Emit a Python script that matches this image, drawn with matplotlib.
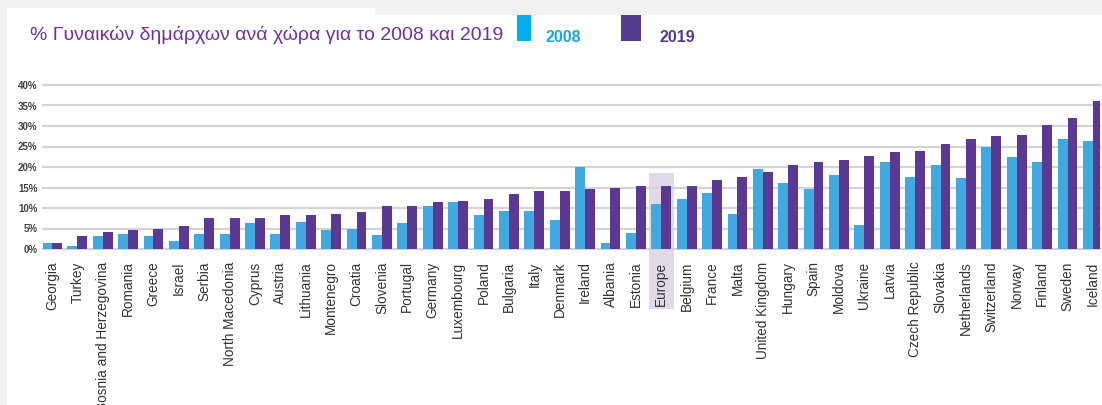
import numpy as np
import matplotlib
matplotlib.use("Agg")
import matplotlib.pyplot as plt
from matplotlib.patches import Rectangle

# data (% of women mayors)
countries = ["Georgia", "Turkey", "Bosnia and Herzegovina", "Romania", "Greece", "Israel",
             "Serbia", "North Macedonia", "Cyprus", "Austria", "Lithuania", "Montenegro",
             "Croatia", "Slovenia", "Portugal", "Germany", "Luxembourg", "Poland", "Bulgaria",
             "Italy", "Denmark", "Ireland", "Albania", "Estonia", "Europe", "Belgium", "France",
             "Malta", "United Kingdom", "Hungary", "Spain", "Moldova", "Ukraine", "Latvia",
             "Czech Republic", "Slovakia", "Netherlands", "Switzerland", "Norway", "Finland",
             "Sweden", "Iceland"]
vals_2008 = [1.5, 0.7, 3.1, 3.6, 3.1, 1.9, 3.6, 3.6, 6.3, 3.6, 6.7, 4.6,
             5.0, 3.5, 6.3, 10.6, 11.4, 8.2, 9.3, 9.3, 7.0, 20.0, 1.5, 3.9,
             11.0, 12.1, 13.7, 8.6, 19.6, 16.1, 14.6, 18.0, 5.9, 21.2,
             17.6, 20.4, 17.2, 24.8, 22.4, 21.2, 26.8, 26.3]
vals_2019 = [1.5, 3.1, 4.2, 4.6, 5.0, 5.5, 7.5, 7.5, 7.5, 8.2, 8.2, 8.6,
             9.0, 10.6, 10.6, 11.4, 11.8, 12.1, 13.3, 14.1, 14.1, 14.6, 15.0, 15.3,
             15.3, 15.3, 16.9, 17.6, 18.9, 20.4, 21.2, 21.6, 22.8, 23.6,
             24.0, 25.5, 26.8, 27.5, 27.9, 30.2, 31.9, 36.2]
yticks = [0, 5, 10, 15, 20, 25, 30, 35, 40]
title = "% Γυναικών δημάρχων ανά χώρα για το 2008 και 2019"
highlight = "Europe"

FONT = ["Liberation Sans Narrow", "Liberation Sans", "DejaVu Sans"]
plt.rcParams["font.family"] = FONT

c08 = "#3fa9e0"
c19 = "#5a3894"

W, H = 1102, 405
fig = plt.figure(figsize=(W / 100, H / 100), dpi=100)
fig.patch.set_facecolor("#f2f2f2")
# white panels like the screenshot
fig.add_artist(Rectangle((7 / W, 0), 1, (H - 15) / H, transform=fig.transFigure,
                         facecolor="white", edgecolor="none", zorder=-5))
fig.add_artist(Rectangle((7 / W, 0), (375 - 7) / W, (H - 8) / H, transform=fig.transFigure,
                         facecolor="white", edgecolor="none", zorder=-5))

ax = fig.add_axes([43 / W, 1 - 249 / H, (1100 - 43) / W, (249 - 85) / H])
ax.set_facecolor("none")

x = np.arange(len(countries))
bw = 0.39
ax.bar(x - bw / 2, vals_2008, bw, color=c08, zorder=3)
ax.bar(x + bw / 2, vals_2019, bw, color=c19, zorder=3)

# highlight the Europe average column
i = countries.index(highlight)
ax.add_patch(Rectangle((i - 0.5, -14.6), 1.0, 14.6 + 18.6, facecolor="#e1d9ea",
                       edgecolor="none", zorder=0, clip_on=False))

ax.set_xlim(-0.35, len(countries) - 1 + 0.28)
ax.set_ylim(0, 40)
ax.set_yticks(yticks)
ax.set_yticklabels([f"{t}%" for t in yticks], fontsize=7, fontweight="bold", color="#404040")
for t in yticks:
    ax.axhline(t, color="#d4d4d4", lw=1.6, zorder=1, clip_on=False)
ax.set_xticks(x)
ax.set_xticklabels(countries, rotation=90, fontsize=9.8, color="#333333")
ax.tick_params(axis="x", length=0, pad=9)
ax.tick_params(axis="y", length=0, pad=4)
for s in ax.spines.values():
    s.set_visible(False)

# header: title and legend
fig.text(30 / W, 1 - 35 / H, title, fontsize=14, color="#7030a0", va="center", ha="left")
fig.add_artist(Rectangle((517 / W, 1 - 41 / H), 14 / W, 26 / H, transform=fig.transFigure,
                         facecolor="#00aeef", edgecolor="none"))
fig.text(545 / W, 1 - 37 / H, "2008", fontsize=11.5, fontweight="bold", color="#1aa7e0",
         va="center", ha="left")
fig.add_artist(Rectangle((621 / W, 1 - 41 / H), 20 / W, 26 / H, transform=fig.transFigure,
                         facecolor="#553a8f", edgecolor="none"))
fig.text(660 / W, 1 - 37 / H, "2019", fontsize=11.5, fontweight="bold", color="#553a8f",
         va="center", ha="left")

fig.savefig("out.png", dpi=100, facecolor=fig.get_facecolor())
